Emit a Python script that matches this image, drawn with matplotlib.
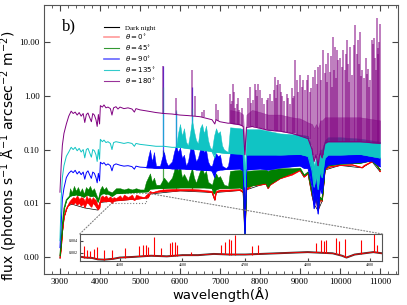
"""Sky spectrum for different moon angles, with a zoom inset."""
import matplotlib
matplotlib.use('Agg')
from matplotlib import pyplot as plt
from matplotlib.lines import Line2D
from matplotlib.patches import Rectangle, ConnectionPatch
from matplotlib.ticker import MultipleLocator, FormatStrFormatter, NullLocator

plt.rcParams['font.family'] = 'serif'
plt.rcParams['font.serif'] = ['Liberation Serif', 'DejaVu Serif']

# ---------------- values ----------------
labels = ['Dark night', r'$\theta=0^{\circ}$', r'$\theta=45^{\circ}$',
          r'$\theta=90^{\circ}$', r'$\theta=135^{\circ}$', r'$\theta=180^{\circ}$']

# dark night
dark_wl = [3000, 3100, 3200, 3300, 3620, 3950, 4000, 4500, 5000, 5200, 5250, 6000,
           6800, 6870, 6900, 7500, 7580, 7620, 7660, 8000, 8150, 8200, 8250, 8500,
           9000, 9100, 9200, 9300, 9350, 9450, 9550, 9620, 10000, 10550, 10800, 11000]
dark_f = [-0.0003, 0.0073, 0.0095, 0.0098, 0.0091, 0.0087, 0.0103, 0.0112, 0.0121, 0.0126,
          0.0148, 0.0169, 0.0158, 0.0113, 0.0158, 0.0172, 0.0157, 0.0049, 0.0177, 0.0216,
          0.0227, 0.0187, 0.0217, 0.0285, 0.0405, 0.0305, 0.0355, 0.0137, 0.0098, 0.0086,
          0.0108, 0.0415, 0.0505, 0.0455, 0.0595, 0.0385]

# theta = 0 : continuum (lo) and top of the line forest (hi)
red_wl = [3000, 3030, 3060, 3100, 3160, 3220, 3280, 3330, 3380, 3430, 3480, 3530, 3580,
          3620, 3660, 3700, 3740, 3785, 3820, 3860, 3900, 3950, 3990, 4010, 4060, 4100,
          4150, 4200, 4260, 4300, 4340, 4400, 4500, 4550, 4600, 4700, 4800, 4860, 4900,
          5000, 5100, 5200, 5250, 5300, 5500, 5800, 6000, 6300, 6500, 6800, 6870, 6900,
          7000, 7200, 7500, 7580, 7620, 7660, 7800, 8000, 8150, 8200, 8250, 8500, 8800,
          9000, 9100, 9200, 9300, 9350, 9400, 9450, 9500, 9550, 9620, 9700, 10000, 10300,
          10550, 10600, 10800, 10900, 11000]
red_lo = [-0.0002, 0.002, 0.005, 0.0075, 0.009, 0.0097, 0.0102, 0.0098, 0.0105, 0.0097,
          0.0102, 0.0095, 0.01, 0.0092, 0.01, 0.0102, 0.0097, 0.0093, 0.01, 0.0098, 0.0094,
          0.0088, 0.0092, 0.0105, 0.0108, 0.011, 0.0107, 0.011, 0.0108, 0.01, 0.011, 0.0112,
          0.0113, 0.0115, 0.0116, 0.0117, 0.012, 0.0114, 0.012, 0.0122, 0.0125, 0.0127,
          0.015, 0.0155, 0.0165, 0.017, 0.0172, 0.0172, 0.017, 0.016, 0.0115, 0.016, 0.0168,
          0.017, 0.0175, 0.016, 0.005, 0.018, 0.0215, 0.022, 0.023, 0.019, 0.022, 0.029,
          0.034, 0.041, 0.031, 0.036, 0.014, 0.01, 0.012, 0.0087, 0.012, 0.011, 0.042,
          0.047, 0.051, 0.052, 0.046, 0.05, 0.06, 0.058, 0.039]
red_hi = [-0.0002, 0.002, 0.005, 0.0075, 0.009, 0.0105, 0.012, 0.013, 0.0125, 0.014,
          0.012, 0.013, 0.0125, 0.011, 0.014, 0.012, 0.013, 0.0115, 0.013, 0.012, 0.0115,
          0.0095, 0.011, 0.013, 0.014, 0.013, 0.014, 0.0125, 0.0135, 0.012, 0.013, 0.0125,
          0.014, 0.0125, 0.0145, 0.013, 0.0145, 0.012, 0.0145, 0.0135, 0.013, 0.0155,
          0.017, 0.016, 0.0178, 0.0185, 0.0185, 0.0185, 0.018, 0.017, 0.012, 0.017, 0.018,
          0.018, 0.0185, 0.017, 0.005, 0.019, 0.023, 0.024, 0.024, 0.02, 0.024, 0.031,
          0.036, 0.043, 0.032, 0.037, 0.014, 0.01, 0.012, 0.0087, 0.012, 0.011, 0.043,
          0.048, 0.052, 0.053, 0.047, 0.051, 0.061, 0.059, 0.04]
red_line_wl = [5577, 5890, 6300]
red_line_bot = [0.0167, 0.017, 0.0172]
red_line_top = [0.025, 0.022, 0.024]

# theta = 45
green_wl = [3000, 3030, 3060, 3100, 3160, 3220, 3250, 3300, 3350, 3400, 3450, 3500, 3550,
            3600, 3650, 3700, 3750, 3800, 3850, 3900, 3950, 4000, 4050, 4100, 4150, 4200,
            4300, 4400, 4500, 4600, 4700, 4800, 4900, 5000, 5100, 5150, 5200, 5250, 5300,
            5350, 5400, 5500, 5600, 5700, 5800, 5850, 5900, 5950, 6000, 6050, 6100, 6200,
            6250, 6300, 6350, 6400, 6500, 6550, 6600, 6650, 6700, 6800, 6850, 6900, 6950,
            7000, 7100, 7200, 7250, 7500, 7580, 7620, 7660, 8000, 8150, 8200, 8250, 8500,
            8800, 9000, 9100, 9200, 9300, 9350, 9400, 9450, 9500, 9550, 9620, 9700, 10000,
            10500, 10800, 11000]
green_lo = [0.0002, 0.003, 0.006, 0.009, 0.0115, 0.013, 0.0135, 0.014, 0.014, 0.0145,
            0.014, 0.014, 0.0135, 0.013, 0.014, 0.0143, 0.0135, 0.0135, 0.0138, 0.0128,
            0.0105, 0.014, 0.015, 0.0152, 0.0148, 0.015, 0.0135, 0.0152, 0.0153, 0.0155,
            0.0157, 0.0158, 0.016, 0.0162, 0.0163, 0.0164, 0.0165, 0.0185, 0.0186, 0.0187,
            0.0188, 0.019, 0.019, 0.0192, 0.0193, 0.0193, 0.0194, 0.0194, 0.0195, 0.0195,
            0.0195, 0.0195, 0.0195, 0.0195, 0.0195, 0.0195, 0.0195, 0.0195, 0.0195, 0.0194,
            0.0193, 0.019, 0.015, 0.018, 0.0185, 0.019, 0.019, 0.019, 0.019, 0.0195, 0.018,
            0.004, 0.02, 0.023, 0.024, 0.02, 0.023, 0.03, 0.037, 0.043, 0.033, 0.038, 0.015,
            0.0105, 0.013, 0.009, 0.013, 0.0115, 0.044, 0.05, 0.054, 0.056, 0.063, 0.042]
green_hi = [0.0002, 0.003, 0.006, 0.009, 0.0115, 0.013, 0.019, 0.016, 0.021, 0.017, 0.02,
            0.016, 0.019, 0.015, 0.02, 0.018, 0.021, 0.017, 0.019, 0.015, 0.012, 0.018,
            0.021, 0.018, 0.02, 0.017, 0.016, 0.019, 0.019, 0.018, 0.019, 0.018, 0.019,
            0.018, 0.018, 0.025, 0.03, 0.036, 0.025, 0.03, 0.022, 0.022, 0.03, 0.024, 0.03,
            0.04, 0.064, 0.04, 0.05, 0.03, 0.035, 0.025, 0.035, 0.045, 0.03, 0.024, 0.04,
            0.048, 0.035, 0.04, 0.025, 0.022, 0.03, 0.036, 0.03, 0.032, 0.022, 0.021, 0.04,
            0.042, 0.04, 0.005, 0.04, 0.042, 0.042, 0.04, 0.042, 0.045, 0.045, 0.046, 0.034,
            0.039, 0.015, 0.0105, 0.013, 0.009, 0.013, 0.0115, 0.045, 0.051, 0.055, 0.057,
            0.064, 0.043]
green_line_wl = [5577, 6300]
green_line_bot = [0.019, 0.0195]
green_line_top = [0.1, 0.06]

# theta = 90
blue_wl = [3000, 3030, 3060, 3100, 3160, 3220, 3280, 3330, 3380, 3430, 3480, 3530, 3580,
           3620, 3660, 3700, 3740, 3785, 3820, 3860, 3900, 3930, 3960, 3990, 4010, 4060,
           4100, 4150, 4200, 4260, 4300, 4340, 4400, 4500, 4600, 4700, 4800, 4860, 4900,
           5000, 5200, 5400, 5600, 5800, 6000, 6200, 6500, 6800, 6870, 6900, 7000, 7200,
           7500, 7580, 7620, 7660, 8000, 8200, 8500, 9000, 9100, 9200, 9300, 9350, 9400,
           9450, 9500, 9550, 9620, 9700, 10000, 10500, 10800, 11000]
blue_f = [0.0017, 0.006, 0.012, 0.019, 0.03, 0.036, 0.04, 0.037, 0.041, 0.035, 0.039,
          0.034, 0.038, 0.028, 0.037, 0.04, 0.034, 0.029, 0.038, 0.036, 0.03, 0.024, 0.036,
          0.026, 0.058, 0.054, 0.057, 0.051, 0.054, 0.05, 0.04, 0.051, 0.054, 0.051, 0.049,
          0.05, 0.048, 0.043, 0.049, 0.047, 0.046, 0.045, 0.045, 0.044, 0.044, 0.043, 0.042,
          0.04, 0.03, 0.04, 0.042, 0.043, 0.044, 0.04, 0.004, 0.042, 0.044, 0.042, 0.046,
          0.05, 0.045, 0.045, 0.02, 0.009, 0.015, 0.008, 0.02, 0.015, 0.045, 0.052, 0.055,
          0.058, 0.062, 0.048]
blue_band_wl = [5150, 5200, 5250, 5300, 5350, 5400, 5500, 5550, 5600, 5650, 5700, 5800,
                5850, 5900, 5950, 6000, 6050, 6100, 6150, 6200, 6250, 6300, 6350, 6400,
                6450, 6500, 6550, 6600, 6650, 6700, 6750, 6800, 6850, 6900, 6950, 7000,
                7050, 7150, 7200, 7250, 7500, 7580, 7620, 7660, 8000, 8200, 8500, 9000,
                9100, 9200, 9300, 9350, 9400, 9450, 9500, 9550, 9620, 9700, 10000, 10500,
                10800, 11000]
blue_band_lo = [0.046, 0.046, 0.046, 0.046, 0.045, 0.045, 0.045, 0.045, 0.045, 0.045,
                0.045, 0.044, 0.044, 0.044, 0.044, 0.044, 0.044, 0.044, 0.043, 0.043,
                0.043, 0.043, 0.043, 0.042, 0.042, 0.042, 0.042, 0.041, 0.041, 0.041,
                0.041, 0.04, 0.033, 0.04, 0.041, 0.042, 0.042, 0.043, 0.043, 0.043, 0.044,
                0.04, 0.004, 0.042, 0.044, 0.042, 0.046, 0.05, 0.045, 0.045, 0.02, 0.009,
                0.015, 0.008, 0.02, 0.015, 0.045, 0.052, 0.055, 0.058, 0.062, 0.048]
blue_band_hi = [0.046, 0.07, 0.1, 0.06, 0.09, 0.05, 0.05, 0.07, 0.09, 0.06, 0.05, 0.06,
                0.09, 0.12, 0.09, 0.11, 0.07, 0.08, 0.05, 0.06, 0.1, 0.13, 0.09, 0.06,
                0.07, 0.1, 0.12, 0.09, 0.1, 0.06, 0.05, 0.05, 0.07, 0.085, 0.075, 0.08,
                0.05, 0.045, 0.05, 0.085, 0.086, 0.08, 0.006, 0.08, 0.085, 0.082, 0.08,
                0.082, 0.08, 0.08, 0.05, 0.02, 0.03, 0.02, 0.05, 0.04, 0.07, 0.08, 0.08,
                0.082, 0.085, 0.07]
blue_line_wl = [5577, 5890, 6300]
blue_line_bot = [0.045, 0.044, 0.043]
blue_line_top = [3.6, 0.5, 1.5]

# theta = 135
cyan_wl = [3000, 3030, 3060, 3100, 3160, 3220, 3280, 3330, 3380, 3430, 3480, 3530, 3580,
           3620, 3660, 3700, 3740, 3785, 3820, 3860, 3900, 3930, 3960, 3990, 4010, 4060,
           4100, 4150, 4200, 4260, 4300, 4340, 4400, 4500, 4600, 4700, 4800, 4860, 4900,
           5000, 5200, 5400, 5600, 5800, 6000, 6200, 6500, 6800, 6870, 6900, 7000, 7200,
           7500, 7580, 7620, 7660, 8000, 8500, 9000, 9200, 9300, 9350, 9400, 9450, 9500,
           9550, 9620, 9700, 10000, 10500, 11000]
cyan_f = [0.003, 0.012, 0.03, 0.05, 0.075, 0.09, 0.11, 0.1, 0.11, 0.095, 0.105, 0.09, 0.1,
          0.07, 0.1, 0.105, 0.088, 0.072, 0.1, 0.095, 0.08, 0.06, 0.1, 0.066, 0.155, 0.14,
          0.15, 0.135, 0.14, 0.13, 0.1, 0.135, 0.14, 0.135, 0.13, 0.135, 0.13, 0.115, 0.13,
          0.125, 0.12, 0.115, 0.115, 0.11, 0.11, 0.105, 0.1, 0.092, 0.07, 0.09, 0.088,
          0.085, 0.083, 0.08, 0.02, 0.08, 0.08, 0.08, 0.082, 0.075, 0.04, 0.02, 0.035,
          0.018, 0.04, 0.03, 0.07, 0.08, 0.08, 0.082, 0.07]
cyan_band_wl = [5900, 5950, 6000, 6050, 6100, 6150, 6200, 6250, 6300, 6350, 6400, 6450,
                6500, 6550, 6600, 6650, 6700, 6750, 6800, 6850, 6900, 6950, 7000, 7050,
                7100, 7200, 7250, 7500, 7580, 7620, 7660, 8000, 8500, 9000, 9200, 9300,
                9350, 9400, 9450, 9500, 9550, 9620, 9700, 10000, 10500, 11000]
cyan_band_lo = [0.11, 0.11, 0.11, 0.11, 0.108, 0.107, 0.105, 0.104, 0.103, 0.102, 0.101,
                0.1, 0.1, 0.098, 0.097, 0.096, 0.095, 0.094, 0.092, 0.08, 0.09, 0.089,
                0.088, 0.087, 0.086, 0.085, 0.085, 0.083, 0.08, 0.02, 0.08, 0.08, 0.08,
                0.082, 0.075, 0.04, 0.02, 0.035, 0.018, 0.04, 0.03, 0.07, 0.08, 0.08,
                0.082, 0.07]
cyan_band_hi = [0.11, 0.2, 0.3, 0.18, 0.25, 0.14, 0.12, 0.2, 0.35, 0.22, 0.15, 0.13, 0.25,
                0.3, 0.2, 0.28, 0.15, 0.11, 0.1, 0.18, 0.25, 0.2, 0.22, 0.12, 0.1, 0.09,
                0.26, 0.25, 0.24, 0.03, 0.24, 0.24, 0.2, 0.19, 0.18, 0.1, 0.05, 0.07, 0.05,
                0.1, 0.1, 0.15, 0.17, 0.17, 0.16, 0.14]
cyan_line_wl = [5577, 5890, 6300]
cyan_line_bot = [0.115, 0.11, 0.103]
cyan_line_top = [1.5, 0.55, 0.6]

# theta = 180
purple_wl = [3000, 3030, 3060, 3100, 3160, 3220, 3280, 3330, 3380, 3430, 3480, 3530, 3580,
             3620, 3660, 3700, 3740, 3785, 3820, 3860, 3900, 3930, 3960, 3990, 4010, 4060,
             4100, 4150, 4200, 4260, 4300, 4340, 4400, 4450, 4500, 4600, 4700, 4800, 4860,
             4900, 5000, 5200, 5400, 5600, 5800, 6000, 6200, 6500, 6800, 6870, 6900, 7000,
             7200, 7250, 7500, 7580, 7620, 7660, 7800, 8000, 8200, 8500, 8800, 9000, 9100,
             9200, 9300, 9350, 9400, 9450, 9500, 9550, 9620, 9700, 10000, 10500, 11000]
purple_f = [0.016, 0.05, 0.12, 0.2, 0.3, 0.42, 0.52, 0.47, 0.5, 0.44, 0.49, 0.42, 0.47,
            0.32, 0.45, 0.48, 0.4, 0.33, 0.47, 0.44, 0.36, 0.27, 0.45, 0.3, 0.66, 0.62,
            0.68, 0.6, 0.62, 0.58, 0.44, 0.6, 0.63, 0.57, 0.62, 0.58, 0.6, 0.57, 0.5, 0.58,
            0.55, 0.52, 0.49, 0.47, 0.46, 0.44, 0.43, 0.41, 0.36, 0.3, 0.36, 0.33, 0.31,
            0.31, 0.29, 0.27, 0.08, 0.26, 0.27, 0.25, 0.23, 0.22, 0.2, 0.18, 0.17, 0.16,
            0.1, 0.06, 0.08, 0.05, 0.09, 0.07, 0.13, 0.14, 0.14, 0.14, 0.13]
purple_band_wl = [7250, 7500, 7580, 7620, 7660, 7800, 8000, 8200, 8500, 8800, 9000, 9100,
                  9200, 9300, 9350, 9400, 9450, 9500, 9550, 9620, 9700, 10000, 10500, 11000]
purple_band_lo = [0.31, 0.29, 0.27, 0.08, 0.26, 0.27, 0.25, 0.23, 0.22, 0.2, 0.18, 0.17,
                  0.16, 0.1, 0.06, 0.08, 0.05, 0.09, 0.07, 0.13, 0.14, 0.14, 0.14, 0.13]
purple_band_hi = [0.55, 0.5, 0.45, 0.1, 0.45, 0.55, 0.5, 0.45, 0.45, 0.4, 0.38, 0.35,
                  0.32, 0.3, 0.25, 0.3, 0.25, 0.35, 0.35, 0.4, 0.4, 0.4, 0.4, 0.35]
purple_line_wl = [5577, 5890, 6300, 6364, 6550, 6600, 6900, 6950, 7250, 7270, 7290, 7330,
                  7350, 7370, 7420, 7450, 7480, 7550, 7700, 7750, 7780, 7830, 7870, 7900,
                  7920, 7960, 8000, 8040, 8100, 8165, 8200, 8250, 8300, 8340, 8370, 8400,
                  8420, 8460, 8500, 8520, 8550, 8600, 8665, 8700, 8760, 8800, 8830, 8850,
                  8870, 8920, 8960, 8990, 9040, 9080, 9120, 9165, 9200, 9240, 9280, 9330,
                  9380, 9420, 9455, 9500, 9530, 9580, 9620, 9650, 9680, 9705, 9750, 9780,
                  9800, 9835, 9860, 9880, 9910, 9935, 9960, 10000, 10040, 10080, 10120,
                  10140, 10170, 10210, 10230, 10250, 10300, 10340, 10380, 10420, 10450,
                  10480, 10500, 10520, 10550, 10600, 10640, 10670, 10700, 10720, 10760,
                  10790, 10820, 10850, 10870, 10900, 10920, 10940, 10960, 10980, 11000]
purple_line_bot = [0.47, 0.45, 0.43, 0.42, 0.41, 0.4, 0.36, 0.34, 0.31, 0.31, 0.31, 0.3,
                   0.3, 0.3, 0.3, 0.29, 0.29, 0.28, 0.27, 0.27, 0.27, 0.27, 0.27, 0.26,
                   0.26, 0.26, 0.25, 0.25, 0.24, 0.24, 0.23, 0.23, 0.23, 0.23, 0.23, 0.22,
                   0.22, 0.22, 0.22, 0.22, 0.22, 0.21, 0.21, 0.21, 0.2, 0.2, 0.2, 0.2,
                   0.2, 0.19, 0.19, 0.18, 0.18, 0.18, 0.17, 0.17, 0.16, 0.16, 0.12, 0.08,
                   0.07, 0.08, 0.05, 0.09, 0.08, 0.08, 0.13, 0.13, 0.14, 0.14, 0.14, 0.14,
                   0.14, 0.14, 0.14, 0.14, 0.14, 0.14, 0.14, 0.14, 0.14, 0.14, 0.14,
                   0.14, 0.14, 0.14, 0.14, 0.14, 0.14, 0.14, 0.14, 0.14, 0.14,
                   0.14, 0.14, 0.14, 0.14, 0.14, 0.14, 0.14, 0.14, 0.14, 0.14,
                   0.14, 0.13, 0.13, 0.13, 0.13, 0.13, 0.13, 0.13, 0.13, 0.13]
purple_line_top = [3.6, 0.9, 3.0, 1.0, 0.5, 0.55, 0.7, 0.55, 1.1, 0.7, 0.8, 1.7,
                   1.2, 0.6, 0.7, 0.9, 0.55, 0.6, 0.9, 1.5, 0.75, 0.85, 1.7, 1.3,
                   1.0, 1.7, 1.3, 0.9, 0.7, 0.85, 0.9, 1.1, 0.8, 1.3, 2.3, 0.9,
                   1.6, 2.0, 1.7, 1.2, 1.0, 0.8, 1.1, 0.9, 0.7, 1.4, 0.9, 1.0,
                   4.6, 2.0, 1.2, 2.5, 1.5, 2.0, 1.3, 2.0, 2.5, 1.2, 1.4, 2.3,
                   3.0, 1.7, 3.5, 3.8, 2.0, 7.2, 2.7, 4.0, 1.8, 6.2, 2.8, 5.5,
                   1.5, 12.6, 3.0, 8.3, 2.2, 7.2, 4.6, 5.0, 3.5, 7.2, 3.0,
                   6.0, 11, 4.0, 1.8, 8.3, 2.5, 9.0, 21, 6, 11,
                   4.0, 15.7, 2.4, 3.0, 2.2, 5.0, 2.6, 3.2, 1.5, 2.0,
                   11, 9.5, 12, 5, 3.0, 28, 6.0, 8, 10, 22]

# zoomed inset (4436-4919 A)
inset_wl = [4436, 4445, 4455, 4465, 4475, 4490, 4500, 4520, 4550, 4575, 4600, 4625, 4650,
            4675, 4700, 4725, 4750, 4775, 4800, 4820, 4840, 4855, 4862, 4875, 4890, 4905,
            4919]
inset_dark = [0.00135, 0.0012, 0.00115, 0.0009, 0.00085, 0.001, 0.0012, 0.0013, 0.0015,
              0.0014, 0.0016, 0.0016, 0.0018, 0.0017, 0.0017, 0.0018, 0.0019, 0.002,
              0.0021, 0.002, 0.0019, 0.0015, 0.0012, 0.0017, 0.0019, 0.0021, 0.0019]
inset_line_wl = [4443, 4447, 4452, 4458, 4463, 4475, 4487, 4508, 4531, 4537, 4541, 4545,
                 4555, 4566, 4580, 4584, 4588, 4591, 4614, 4661, 4668, 4674, 4678, 4684,
                 4711, 4721, 4814, 4821, 4826, 4830, 4846, 4850, 4859, 4885, 4906, 4911]
inset_line_bot = [0.0012, 0.0012, 0.00115, 0.0011, 0.0009, 0.00085, 0.001, 0.0012, 0.0014,
                  0.0014, 0.0014, 0.0015, 0.0015, 0.0015, 0.0014, 0.0014, 0.0014, 0.0014,
                  0.0016, 0.0018, 0.0018, 0.0017, 0.0017, 0.0017, 0.0017, 0.0018, 0.0021,
                  0.0021, 0.002, 0.002, 0.0019, 0.0018, 0.0013, 0.0018, 0.0021, 0.0021]
inset_line_top = [0.0031, 0.0024, 0.0023, 0.0026, 0.0029, 0.0024, 0.0024, 0.0027, 0.0031,
                  0.0033, 0.0033, 0.003, 0.0046, 0.0027, 0.0036, 0.0038, 0.0038, 0.0033,
                  0.0022, 0.0033, 0.0038, 0.0042, 0.0041, 0.0049, 0.0031, 0.0033, 0.0036,
                  0.0041, 0.0039, 0.0041, 0.0044, 0.0039, 0.0042, 0.0041, 0.0051, 0.0033]


def draw(ax, wl, cont, bwl, blo, bhi, lwl, lbot, ltop, color, z,
         band_alpha=1.0, line_alpha=0.7, line_lw=0.9):
    ax.fill_between(bwl, blo, bhi, color=color, lw=0.3, alpha=band_alpha, zorder=z)
    ax.vlines(lwl, lbot, ltop, color=color, lw=line_lw, alpha=line_alpha, zorder=z)
    ax.plot(wl, cont, color=color, lw=0.7, zorder=z)


def plot():
    fig = plt.figure(figsize=(4.07, 3.05), dpi=100)
    ax = fig.add_axes([0.108, 0.102, 0.870, 0.882])
    ax.set_yscale('symlog', linthresh=0.01, linscale=0.9)

    ax.plot(dark_wl, dark_f, color='k', lw=0.5, zorder=2)
    draw(ax, red_wl, red_lo, red_wl, red_lo, red_hi,
         red_line_wl, red_line_bot, red_line_top, 'red', 3)
    draw(ax, green_wl, green_lo, green_wl, green_lo, green_hi,
         green_line_wl, green_line_bot, green_line_top, 'green', 4)
    draw(ax, blue_wl, blue_f, blue_band_wl, blue_band_lo, blue_band_hi,
         blue_line_wl, blue_line_bot, blue_line_top, 'blue', 5)
    draw(ax, cyan_wl, cyan_f, cyan_band_wl, cyan_band_lo, cyan_band_hi,
         cyan_line_wl, cyan_line_bot, cyan_line_top, '#10c4c4', 6)
    draw(ax, purple_wl, purple_f, purple_band_wl, purple_band_lo, purple_band_hi,
         purple_line_wl, purple_line_bot, purple_line_top, 'purple', 7,
         band_alpha=0.5, line_alpha=0.6, line_lw=1.2)

    ax.set_xlim(2600, 11450)
    ax.set_ylim(-0.0032, 50)
    ax.set_yticks([0, 0.01, 0.1, 1, 10])
    ax.yaxis.set_major_formatter(FormatStrFormatter('%.2f'))
    ax.yaxis.set_minor_locator(NullLocator())
    ax.xaxis.set_major_locator(MultipleLocator(1000))
    ax.xaxis.set_minor_locator(MultipleLocator(200))
    ax.tick_params(which='both', direction='in', top=True, right=True,
                   labelsize=6.5, color='#444444', pad=3)
    ax.tick_params(which='major', length=4)
    ax.tick_params(which='minor', length=2)
    for s in ax.spines.values():
        s.set_color('#555555')
    ax.set_xlabel('wavelength(Å)', family='DejaVu Sans', fontsize=9.5, labelpad=1)
    ax.set_ylabel(r'flux (photons s$^{-1}$ Å$^{-1}$ arcsec$^{-2}$ m$^{-2}$)',
                  family='DejaVu Sans', fontsize=10)
    ax.yaxis.set_label_coords(-0.068, 0.44)
    ax.text(0.05, 0.92, 'b)', transform=ax.transAxes, fontsize=12, va='center')

    handles = [Line2D([], [], color='k', lw=0.8),
               Line2D([], [], color='red', alpha=0.4, lw=1.2),
               Line2D([], [], color='green', alpha=0.8, lw=0.8),
               Line2D([], [], color='blue', alpha=0.6, lw=1.2),
               Line2D([], [], color='c', alpha=0.8, lw=0.8),
               Line2D([], [], color='purple', alpha=0.8, lw=0.8)]
    ax.legend(handles, labels, loc='upper left', bbox_to_anchor=(0.17, 0.925),
              frameon=False, fontsize=5, handlelength=2.2, handletextpad=0.8,
              labelspacing=0.2, borderaxespad=0, borderpad=0)

    # zoom box and inset
    ax.add_patch(Rectangle((4300, 0.0101), 850, 0.0054, fill=False, ls=':',
                           ec='gray', lw=0.8, zorder=1))
    axin = fig.add_axes([0.196, 0.145, 0.743, 0.088])
    axin.plot(inset_wl, inset_dark, color='#333333', lw=1.4)
    axin.vlines(inset_line_wl, inset_line_bot, inset_line_top, color='red', lw=0.8)
    axin.plot(inset_wl, inset_dark, color='red', lw=0.6)
    axin.set_xlim(4436, 4919)
    axin.set_ylim(0.00067, 0.0051)
    axin.set_xticks([4500, 4600, 4700, 4800, 4900])
    axin.set_yticks([0.002, 0.004])
    axin.yaxis.set_major_formatter(FormatStrFormatter('%.3f'))
    axin.tick_params(direction='in', labelsize=3, length=2, pad=1.5, color='#444444')
    for s in axin.spines.values():
        s.set_color('#555555')
    for xa, xb in [((0, 1), (4300, 0.0101)), ((1, 1), (5150, 0.0155))]:
        con = ConnectionPatch(xyA=xa, coordsA=axin.transAxes, xyB=xb,
                              coordsB=ax.transData, ls=':', color='gray', lw=0.8)
        fig.add_artist(con)

    plt.savefig('out.png', dpi=100)


if __name__ == '__main__':
    plot()
